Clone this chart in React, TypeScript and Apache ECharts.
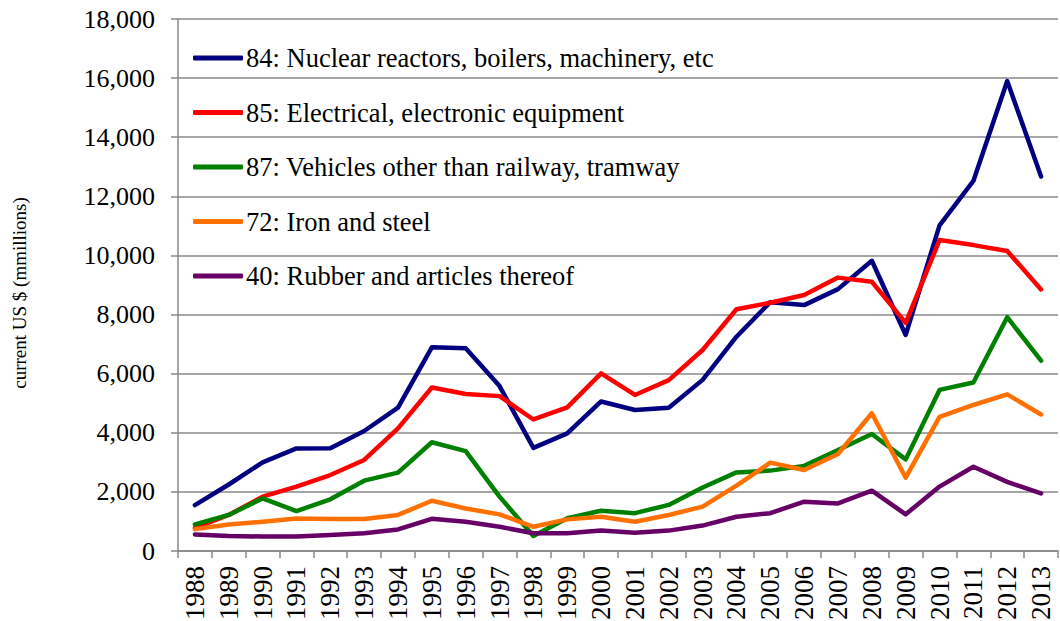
import React, { useEffect, useRef } from "react";
import * as echarts from "echarts";

const years = [
  "1988", "1989", "1990", "1991", "1992", "1993", "1994", "1995", "1996", "1997",
  "1998", "1999", "2000", "2001", "2002", "2003", "2004", "2005", "2006", "2007",
  "2008", "2009", "2010", "2011", "2012", "2013",
];

const names = [
  "84: Nuclear reactors, boilers, machinery, etc",
  "85: Electrical, electronic equipment",
  "87: Vehicles other than railway, tramway",
  "72: Iron and steel",
  "40: Rubber and articles thereof",
];

const yTitle = "current US $ (mmillions)";

const colors = ["#000080", "#FF0000", "#008000", "#FF7000", "#660066"];

const s84 = [1550, 2250, 3000, 3470, 3480, 4060, 4850, 6890, 6860, 5580, 3490, 3980, 5060,
  4770, 4850, 5790, 7250, 8420, 8320, 8860, 9820, 7310, 11020, 12520, 15900, 12670];
const s85 = [780, 1220, 1840, 2180, 2570, 3080, 4150, 5530, 5310, 5240, 4450, 4860, 6010,
  5280, 5780, 6800, 8180, 8400, 8660, 9250, 9110, 7720, 10520, 10350, 10150, 8850];
const s87 = [900, 1220, 1780, 1350, 1750, 2380, 2650, 3680, 3380, 1840, 510, 1110, 1360,
  1280, 1560, 2150, 2660, 2720, 2880, 3420, 3960, 3100, 5450, 5700, 7910, 6440];
const s72 = [740, 900, 990, 1100, 1080, 1080, 1220, 1700, 1440, 1240, 820, 1070, 1160,
  990, 1220, 1500, 2210, 2990, 2740, 3280, 4660, 2480, 4540, 4940, 5300, 4620];
const s40 = [560, 510, 490, 490, 540, 600, 730, 1090, 990, 820, 600, 600, 690,
  620, 690, 860, 1160, 1280, 1670, 1610, 2040, 1240, 2180, 2850, 2340, 1950];

const seriesData = [s84, s85, s87, s72, s40];
const yTicks = [0, 2000, 4000, 6000, 8000, 10000, 12000, 14000, 16000, 18000];

const FONT = "Liberation Serif";

export default function App() {
  const ref = useRef<HTMLDivElement>(null);
  useEffect(() => {
    if (!ref.current) return;
    const chart = echarts.init(ref.current, null, { renderer: "svg" });
    chart.setOption({
      animation: false,
      backgroundColor: "#ffffff",
      textStyle: { fontFamily: FONT },
      grid: {
        left: 178,
        right: 2,
        top: 19,
        bottom: 70,
        containLabel: false,
        outerBoundsMode: "none",
      },
      graphic: [
        {
          type: "text",
          x: 19,
          y: 293,
          rotation: Math.PI / 2,
          style: {
            text: yTitle,
            fontFamily: FONT,
            fontSize: 19,
            fill: "#000000",
            align: "center",
            verticalAlign: "middle",
          },
        },
      ],
      legend: {
        orient: "vertical",
        left: 193,
        top: 42,
        padding: 0,
        itemWidth: 50,
        itemHeight: 5,
        itemGap: 22.5,
        icon: "roundRect",
        data: names,
        textStyle: {
          fontFamily: FONT,
          fontSize: 26.5,
          color: "#000000",
          lineHeight: 32,
          padding: [0, 0, 0, -2],
        },
      },
      xAxis: {
        type: "category",
        data: years,
        boundaryGap: true,
        axisLine: { lineStyle: { color: "#888888", width: 1.5 } },
        axisTick: { show: true, length: 7, interval: 0, lineStyle: { color: "#888888", width: 1.5 } },
        axisLabel: {
          interval: 0,
          rotate: 90,
          margin: 15,
          fontFamily: FONT,
          fontSize: 27,
          color: "#000000",
        },
        splitLine: { show: false },
      },
      yAxis: {
        type: "value",
        min: yTicks[0],
        max: yTicks[yTicks.length - 1],
        interval: 2000,
        axisLine: { show: true, lineStyle: { color: "#888888", width: 1.5 } },
        axisTick: { show: true, length: 7, lineStyle: { color: "#888888", width: 1.5 } },
        axisLabel: {
          margin: 23,
          fontFamily: FONT,
          fontSize: 26,
          color: "#000000",
          formatter: (v: number) => v.toLocaleString("en-US"),
        },
        splitLine: { show: true, lineStyle: { color: "#888888", width: 1.5 } },
      },
      series: seriesData.map((d, i) => ({
        name: names[i],
        type: "line",
        data: d,
        symbol: "none",
        color: colors[i],
        lineStyle: { width: 4.5, color: colors[i], cap: "round", join: "round" },
        itemStyle: { color: colors[i] },
      })),
    });
    return () => chart.dispose();
  }, []);
  return (
    <div
      ref={ref}
      style={{ position: "fixed", left: 0, top: 0, width: 1060, height: 621 }}
    />
  );
}
